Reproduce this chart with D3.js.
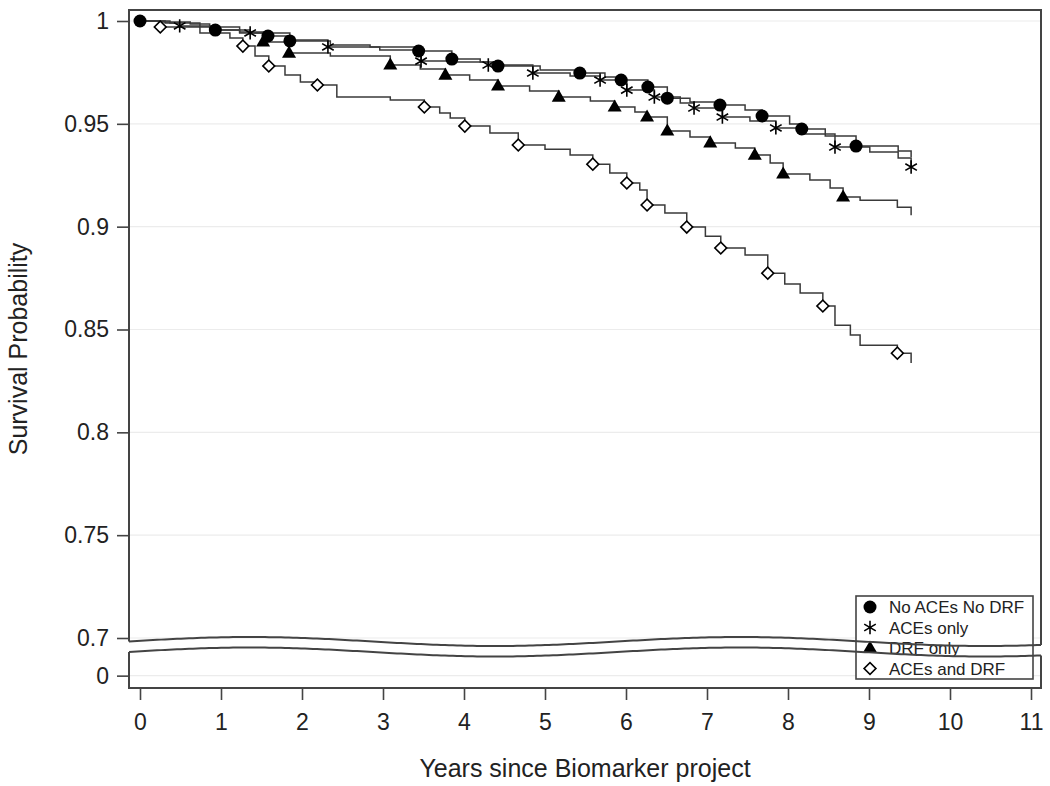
<!DOCTYPE html>
<html><head><meta charset="utf-8">
<script src="https://cdn.jsdelivr.net/npm/d3@7"></script>
<style>
body{margin:0;background:#fff;}
text{font-family:Arial,"Liberation Sans",sans-serif;fill:#222;}
</style></head>
<body><svg id="c" width="1050" height="786"></svg>
<script>
// ---- data ----
const seriesNames = ["No ACEs No DRF", "ACEs only", "DRF only", "ACEs and DRF"];
const noneT = [0, 0.25, 0.62, 0.86, 0.93, 1.23, 1.58, 1.85, 2.35, 2.84, 3.44, 3.85, 4.20, 4.42, 4.94, 5.43, 5.74, 5.94, 6.27, 6.51, 6.79, 7.16, 7.47, 7.68, 8.02, 8.17, 8.46, 8.84, 9.36, 9.52];
const noneS = [1.000, 0.9995, 0.9985, 0.9966, 0.9956, 0.9946, 0.9927, 0.9903, 0.9883, 0.9874, 0.9854, 0.9815, 0.9801, 0.9781, 0.9762, 0.9747, 0.9728, 0.9713, 0.9679, 0.9625, 0.9606, 0.9591, 0.9567, 0.9538, 0.9499, 0.9475, 0.9441, 0.9392, 0.9368, 0.9339];
const acesT = [0, 0.31, 0.49, 0.93, 1.36, 1.85, 2.32, 2.96, 3.47, 3.83, 4.30, 4.85, 5.31, 5.68, 6.01, 6.35, 6.67, 6.84, 7.19, 7.53, 7.85, 8.15, 8.58, 9.01, 9.36, 9.52];
const acesS = [1, 0.9990, 0.9976, 0.9956, 0.9942, 0.9908, 0.9874, 0.9859, 0.9805, 0.9801, 0.9786, 0.9747, 0.9732, 0.9713, 0.9664, 0.9630, 0.9601, 0.9577, 0.9533, 0.9514, 0.9480, 0.9450, 0.9387, 0.9363, 0.9334, 0.9290];
const drfT = [0, 0.37, 0.74, 1.23, 1.52, 1.84, 2.35, 3.09, 3.46, 3.77, 4.07, 4.42, 4.81, 5.17, 5.56, 5.86, 6.11, 6.26, 6.51, 6.79, 7.04, 7.35, 7.59, 7.78, 7.94, 8.27, 8.52, 8.68, 8.89, 9.35, 9.52];
const drfS = [1, 0.9990, 0.9971, 0.9942, 0.9898, 0.9844, 0.9830, 0.9786, 0.9767, 0.9737, 0.9713, 0.9684, 0.9660, 0.9630, 0.9611, 0.9582, 0.9557, 0.9533, 0.9465, 0.9436, 0.9407, 0.9382, 0.9348, 0.9309, 0.9256, 0.9227, 0.9188, 0.9144, 0.9129, 0.9095, 0.9056];
const bothT = [0, 0.25, 0.74, 1.11, 1.27, 1.42, 1.59, 1.79, 1.98, 2.19, 2.43, 3.09, 3.51, 3.70, 3.83, 4.01, 4.32, 4.67, 5.00, 5.31, 5.59, 5.80, 6.01, 6.17, 6.26, 6.48, 6.75, 6.98, 7.17, 7.47, 7.75, 7.96, 8.15, 8.43, 8.58, 8.77, 8.89, 9.35, 9.52];
const bothS = [1, 0.9971, 0.9942, 0.9917, 0.9878, 0.9830, 0.9781, 0.9737, 0.9703, 0.9689, 0.9630, 0.9616, 0.9582, 0.9553, 0.9528, 0.9489, 0.9455, 0.9397, 0.9377, 0.9348, 0.9304, 0.9261, 0.9212, 0.9178, 0.9105, 0.9066, 0.8998, 0.8954, 0.8896, 0.8862, 0.8774, 0.8721, 0.8677, 0.8614, 0.8521, 0.8473, 0.8424, 0.8385, 0.8337];
const noneMarks = [0, 0.93, 1.58, 1.85, 3.44, 3.85, 4.42, 5.43, 5.94, 6.27, 6.51, 7.16, 7.68, 8.17, 8.84];
const acesMarks = [0.49, 1.36, 2.32, 3.47, 4.30, 4.85, 5.68, 6.01, 6.35, 6.84, 7.19, 7.85, 8.58, 9.52];
const drfMarks = [1.52, 1.84, 3.09, 3.77, 4.42, 5.17, 5.86, 6.26, 6.51, 7.04, 7.59, 7.94, 8.68];
const bothMarks = [0.25, 1.27, 1.59, 2.19, 3.51, 4.01, 4.67, 5.59, 6.01, 6.26, 6.75, 7.17, 7.75, 8.43, 9.35];
const xTicks = [0,1,2,3,4,5,6,7,8,9,10,11];
const yTicksUpper = [0.7,0.75,0.8,0.85,0.9,0.95,1];
const yTickLabelsUpper = ["0.7","0.75","0.8","0.85","0.9","0.95","1"];
const yTicksLower = [0];
const yTickLabelsLower = ["0"];

// ---- layout ----
const L = 129, R = 1041, T = 10, B = 688;
const svg = d3.select("#c");
const x = d3.scaleLinear().domain([0, 11]).range([140, 1031]);
const y = d3.scaleLinear().domain([0.7, 1.0]).range([638, 21]);
const yLow = d3.scaleLinear().domain([-0.006, 0.011]).range([688, 653]);
const frameColor = "#444";

// wave for axis break (decoration)
const waveUp = px => 641.5 - 4.5 * Math.cos(2 * Math.PI * (px - 250) / 490);
const waveLow = px => waveUp(px) + 10.5;
const wx = d3.range(L, R + 0.5, 4).concat([R]);

// gridlines
const grid = svg.append("g");
grid.selectAll("line.gu").data(yTicksUpper).join("line")
  .attr("x1", L).attr("x2", R).attr("y1", d => y(d)).attr("y2", d => y(d))
  .attr("stroke", "#ececec").attr("stroke-width", 1.2);
grid.selectAll("line.gl").data(yTicksLower).join("line")
  .attr("x1", L).attr("x2", R).attr("y1", d => yLow(d)).attr("y2", d => yLow(d))
  .attr("stroke", "#ececec").attr("stroke-width", 1.2);

// curves
const series = [
  {t: noneT, s: noneS, m: noneMarks, sym: "circle"},
  {t: acesT, s: acesS, m: acesMarks, sym: "star"},
  {t: drfT, s: drfS, m: drfMarks, sym: "triangle"},
  {t: bothT, s: bothS, m: bothMarks, sym: "diamond"}
];
const line = d3.line().x(d => x(d[0])).y(d => y(d[1])).curve(d3.curveStepAfter);
const stepAt = (T_, S_, t) => S_[Math.max(0, d3.bisectRight(T_, t) - 1)];
series.forEach(sr => {
  svg.append("path").datum(sr.t.map((t, i) => [t, sr.s[i]]))
    .attr("d", line).attr("fill", "none").attr("stroke", "#3a3a3a").attr("stroke-width", 1.5);
});

function drawSym(g, sym, cx, cy) {
  if (sym === "circle") {
    g.append("circle").attr("cx", cx).attr("cy", cy).attr("r", 6.5).attr("fill", "#000");
  } else if (sym === "triangle") {
    g.append("path").attr("d", d3.symbol(d3.symbolTriangle, 85)()).attr("transform", `translate(${cx},${cy + 0.5})`).attr("fill", "#000");
  } else if (sym === "diamond") {
    g.append("path").attr("d", d3.symbol(d3.symbolSquare, 70)()).attr("transform", `translate(${cx},${cy}) rotate(45)`)
      .attr("fill", "#fff").attr("stroke", "#000").attr("stroke-width", 1.6);
  } else {
    g.append("path").attr("d", d3.symbol(d3.symbolAsterisk, 125)()).attr("transform", `translate(${cx},${cy})`)
      .attr("fill", "none").attr("stroke", "#000").attr("stroke-width", 1.6);
  }
}
const mk = svg.append("g");
series.forEach(sr => {
  sr.m.forEach(t => drawSym(mk, sr.sym, x(t), y(stepAt(sr.t, sr.s, t))));
});

// legend
const lg = svg.append("g");
lg.append("rect").attr("x", 856).attr("y", 596).attr("width", 177).attr("height", 83)
  .attr("fill", "#fff").attr("stroke", frameColor).attr("stroke-width", 1.6);
const legSyms = ["circle", "star", "triangle", "diamond"];
seriesNames.forEach((nm, i) => {
  const cy = 607 + i * 20.5;
  drawSym(lg, legSyms[i], 870, cy);
  lg.append("text").attr("x", 889).attr("y", cy).attr("dy", "0.36em").attr("font-size", 17).text(nm);
});

// frame with axis break
const fr = svg.append("g").attr("fill", "none").attr("stroke", frameColor).attr("stroke-width", 2);
fr.append("path").attr("d", `M${L},${waveUp(L)}V${T}H${R}V${waveUp(R)}`);
fr.append("path").attr("d", d3.line()(wx.map(px => [px, waveUp(px)])));
fr.append("path").attr("d", d3.line()(wx.map(px => [px, waveLow(px)])));
fr.append("path").attr("d", `M${L},${waveLow(L)}V${B}H${R}V${waveLow(R)}`);

// axes
const styleAxis = g => {
  g.select(".domain").remove();
  g.selectAll(".tick line").attr("stroke", frameColor).attr("stroke-width", 1.6);
  g.selectAll(".tick text").attr("font-size", 23).attr("fill", "#222");
};
svg.append("g").attr("transform", `translate(${L},0)`)
  .call(d3.axisLeft(y).tickValues(yTicksUpper).tickFormat((d, i) => yTickLabelsUpper[i]).tickSize(12).tickPadding(8))
  .call(styleAxis);
svg.append("g").attr("transform", `translate(${L},0)`)
  .call(d3.axisLeft(yLow).tickValues(yTicksLower).tickFormat((d, i) => yTickLabelsLower[i]).tickSize(12).tickPadding(8))
  .call(styleAxis);
svg.append("g").attr("transform", `translate(0,${B + 1})`)
  .call(d3.axisBottom(x).tickValues(xTicks).tickFormat(d3.format("d")).tickSize(11).tickPadding(14))
  .call(styleAxis);

// titles
svg.append("text").attr("x", 585).attr("y", 777).attr("text-anchor", "middle").attr("font-size", 25)
  .text("Years since Biomarker project");
svg.append("text").attr("transform", "translate(27,349) rotate(-90)").attr("text-anchor", "middle").attr("font-size", 25)
  .text("Survival Probability");
</script></body></html>
